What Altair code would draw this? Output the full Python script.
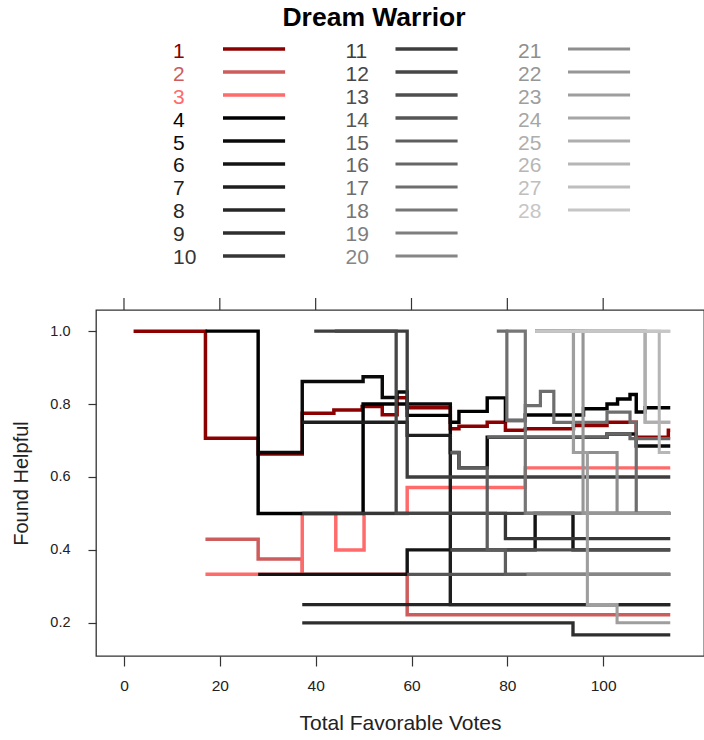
import altair as alt
import pandas as pd

# ---- data: step points (x = total favorable votes, y = found helpful) ----
s1 = [(2, 1.0), (17, 0.706), (28, 0.663), (37.2, 0.775), (43.8, 0.784), (49.7, 0.793), (53.9, 0.771),
      (57, 0.817), (59.1, 0.79), (68.1, 0.732), (69.9, 0.739), (75.8, 0.75), (79.6, 0.728),
      (83.75, 0.732), (93.8, 0.741), (100.8, 0.75), (106.9, 0.709), (113.6, 0.728)]
s2 = [(17, 0.429), (28, 0.375), (37.2, 0.333), (59.1, 0.222)]
s3 = [(17, 0.333), (37.2, 0.5), (44.2, 0.4), (50.1, 0.5), (59.1, 0.571), (83.75, 0.625)]
s4 = [(17, 1.0), (28, 0.5), (49.9, 0.8), (59.1, 0.769), (68.1, 0.75), (69.9, 0.78), (75.8, 0.817),
      (79.6, 0.755), (83.75, 0.77), (95.9, 0.787), (100.8, 0.8), (103.0, 0.814), (105.6, 0.826),
      (106.9, 0.778), (108.75, 0.79)]
s5 = [(28, 0.667), (37.2, 0.862), (49.9, 0.875), (53.9, 0.818), (57, 0.833), (59.1, 0.8),
      (68.1, 0.667), (69.9, 0.625), (75.8, 0.709), (100.8, 0.718), (106.9, 0.685)]
s6 = [(28, 0.333), (59.1, 0.4), (85.8, 0.5), (93.7, 0.4)]
s7 = [(37.2, 0.75), (59.1, 0.714), (68.1, 0.25)]
s8 = [(37.2, 0.25)]
s9 = [(37.2, 0.2), (93.7, 0.167)]
s10 = [(37.2, 0.5), (79.6, 0.431)]
s11 = [(39.7, 1.0), (59.1, 0.6)]
s12 = [(44, 1.0), (56.8, 0.5)]
s13 = [(68.1, 0.4)]
s14 = [(59.1, 0.333)]
s15 = [(68.1, 0.667), (69.9, 0.625), (75.8, 0.4), (79.6, 0.333)]
s16 = [(75.8, 0.709), (100.8, 0.718), (105.6, 0.705)]
s17 = [(77.8, 1.0), (79.9, 0.755), (83.75, 0.796), (86.9, 0.835), (89.7, 0.75), (100.8, 0.778),
       (105.6, 0.75), (106.9, 0.5)]
s18 = [(79.7, 1.0), (83.75, 0.5)]
s19 = [(83.75, 0.5)]
s20 = [(84, 0.333)]
s21 = [(85.8, 1.0), (93.8, 0.667), (102.9, 0.5)]
s22 = [(85.8, 1.0), (95.8, 0.5)]
s23 = [(85.8, 1.0), (93.8, 0.667), (96.7, 0.25), (102.9, 0.2)]
s24 = [(85.8, 1.0), (108.75, 0.75)]
s25 = [(90, 1.0), (108.75, 0.75)]
s26 = [(85.8, 1.0), (111.7, 0.667)]
s27 = [(95, 1.0)]
s28 = [(85.8, 1.0)]

all_series = [s1, s2, s3, s4, s5, s6, s7, s8, s9, s10, s11, s12, s13, s14,
              s15, s16, s17, s18, s19, s20, s21, s22, s23, s24, s25, s26, s27, s28]
x_end = 114

series_labels = [str(i) for i in range(1, 29)]
series_colors = ["#8B0000", "#CD5C5C", "#FF6A6A",
                 "#000000", "#0A0A0A", "#141414", "#1E1E1E", "#262626", "#2E2E2E", "#363636",
                 "#3E3E3E", "#464646", "#4E4E4E", "#565656", "#5E5E5E", "#666666", "#6E6E6E",
                 "#767676", "#7E7E7E", "#868686",
                 "#8E8E8E", "#969696", "#9E9E9E", "#A6A6A6", "#AEAEAE", "#B6B6B6", "#BEBEBE", "#C6C6C6"]
series_widths = [3.5, 3, 3] + [2] * 25

x_ticks = [0, 20, 40, 60, 80, 100]
y_ticks = [0.2, 0.4, 0.6, 0.8, 1.0]

# ---- build tables ----
ids = [f"{i:02d}" for i in range(1, 29)]
rows = []
for k, pts in enumerate(all_series):
    pts2 = list(pts) + [(x_end, pts[-1][1])]
    for j, (xv, yv) in enumerate(pts2):
        rows.append({"sid": ids[k], "x": xv, "y": yv, "idx": j})
df = pd.DataFrame(rows)

leg = pd.DataFrame({
    "sid": ids,
    "label": series_labels,
    "col": [k // 10 for k in range(28)],
    "row": [k % 10 for k in range(28)],
})
leg["col_end"] = leg["col"] + 0.36

FONT = "Liberation Sans, Arial"
XDOM = [-5.84, 121.04]
YDOM = [0.109, 1.058]

color_scale = alt.Scale(domain=ids, range=series_colors)
width_scale = alt.Scale(domain=ids, range=series_widths)

x_axis = alt.Axis(values=x_ticks, title="Total Favorable Votes", grid=False, domain=False,
                  tickSize=10, tickColor="#333", tickWidth=1.2, labelPadding=12,
                  labelFont=FONT, labelFontSize=15.5, labelColor="#222",
                  titleFont=FONT, titleFontSize=21, titleFontWeight="normal",
                  titleColor="#222", titlePadding=19)
x_scale = alt.Scale(domain=XDOM, nice=False, zero=False)

lines = alt.Chart(df).mark_line(interpolate="step-after", strokeCap="butt").encode(
    x=alt.X("x:Q", scale=x_scale, axis=x_axis),
    y=alt.Y("y:Q", scale=alt.Scale(domain=YDOM, nice=False, zero=False),
            axis=alt.Axis(values=y_ticks, format=".1f", title="Found Helpful", grid=False, domain=False,
                          tickSize=8, tickColor="#333", tickWidth=1.2, labelPadding=18,
                          labelFont=FONT, labelFontSize=14.5, labelColor="#222",
                          titleFont=FONT, titleFontSize=20, titleFontWeight="normal",
                          titleColor="#222", titlePadding=18)),
    color=alt.Color("sid:N", scale=color_scale, legend=None),
    strokeWidth=alt.StrokeWidth("sid:N", scale=width_scale, legend=None),
    detail="sid:N",
    order="idx:Q",
)

top_ticks = alt.Chart(pd.DataFrame({"x": x_ticks})).mark_rule(color="#333", strokeWidth=1.2).encode(
    x=alt.X("x:Q", scale=x_scale, axis=x_axis),
    y=alt.value(-12), y2=alt.value(0),
)

main = alt.layer(lines, top_ticks)

leg_text = alt.Chart(leg).mark_text(align="left", baseline="middle", font=FONT, fontSize=21).encode(
    x=alt.X("col:Q", scale=alt.Scale(domain=[0, 2], range=[77, 422], nice=False, zero=False), axis=None),
    y=alt.Y("row:Q", scale=alt.Scale(domain=[0, 9], range=[-258, -52], nice=False, zero=False), axis=None),
    text="label:N",
    color=alt.Color("sid:N", scale=color_scale, legend=None),
)

leg_lines = alt.Chart(leg).mark_rule(strokeCap="butt").encode(
    x=alt.X("col:Q", scale=alt.Scale(domain=[0, 2], range=[127, 472], nice=False, zero=False), axis=None),
    x2="col_end:Q",
    y=alt.Y("row:Q", scale=alt.Scale(domain=[0, 9], range=[-261, -54], nice=False, zero=False), axis=None),
    color=alt.Color("sid:N", scale=color_scale, legend=None),
    strokeWidth=alt.StrokeWidth("sid:N", scale=width_scale, legend=None),
)

title = alt.Chart(pd.DataFrame({"t": ["Dream Warrior"]})).mark_text(
    font="Liberation Sans, Arial", fontSize=26.5, fontWeight="bold", baseline="middle", align="center",
    color="#000").encode(
    text="t:N", x=alt.value(278), y=alt.value(-292))

chart = alt.layer(main, leg_text, leg_lines, title).resolve_scale(
    x="independent", y="independent"
).properties(
    width=608, height=346,
    padding={"left": 96, "top": 310, "right": 0, "bottom": 84},
    autosize=alt.AutoSizeParams(type="none"),
).configure_view(stroke="#333", strokeWidth=1.3)

chart.save("out.html", embed_options={"renderer": "svg", "actions": False})
